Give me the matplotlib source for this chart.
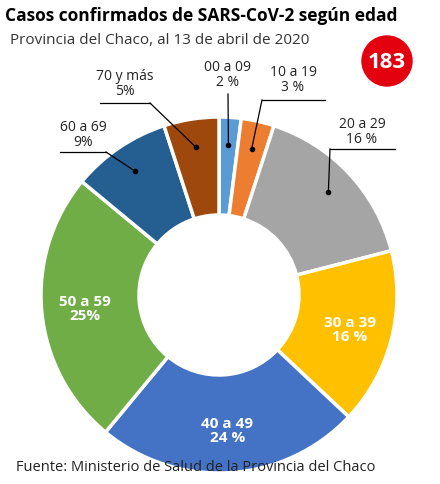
import matplotlib
matplotlib.use("Agg")
import matplotlib.pyplot as plt
import numpy as np

categories = ["00 a 09", "10 a 19", "20 a 29", "30 a 39", "40 a 49", "50 a 59", "60 a 69", "70 y más"]
values = [2, 3, 16, 16, 24, 25, 9, 5]
pct_labels = ["2 %", "3 %", "16 %", "16 %", "24 %", "25%", "9%", "5%"]
colors = ["#5b9bd5", "#ed7d31", "#a5a5a5", "#ffc000", "#4472c4", "#70ad47", "#255e91", "#9e480e"]
total = 183

H = 485
def Y(y):
    return H - y

plt.rcParams['font.family'] = ['Open Sans', 'DejaVu Sans']
fig = plt.figure(figsize=(4.4, 4.85), dpi=100)
ax = fig.add_axes([0, 0, 1, 1])

cx, cy, R = 219, 296, 178
ax.pie(values, colors=colors, startangle=90, counterclock=False, center=(cx, Y(cy)), radius=R,
       wedgeprops=dict(width=R - 80, edgecolor='white', linewidth=2.5), frame=True)
ax.set_xlim(0, 440); ax.set_ylim(0, H); ax.set_aspect('equal'); ax.axis('off')

cum = np.cumsum([0] + values[:-1])
mids = [90 - (c + v / 2) / 100 * 360 for c, v in zip(cum, values)]

def pt(i, r):
    a = np.deg2rad(mids[i])
    return cx + r * np.cos(a), Y(cy) + r * np.sin(a)

for i in [3, 4, 5]:
    x, y = pt(i, 135)
    ax.text(x, y, f"{categories[i]}\n{pct_labels[i]}", color='white', fontsize=11, fontweight='bold',
            ha='center', va='center', linespacing=1.0)

outs = {0: (228, 75, None), 1: (293, 80, (262, 325, 101)), 2: (362, 132, (330, 395, 150)),
        6: (83, 135, (60, 106, 153)), 7: (125, 84, (100, 150, 104))}
for i, (tx, ty, ul) in outs.items():
    ax.text(tx, Y(ty), f"{categories[i]}\n{pct_labels[i]}", fontsize=10, ha='center', va='center',
            linespacing=1.0, color='#222222')
    px, py = pt(i, 150)
    if ul is None:
        ax.plot([tx, px], [Y(ty + 20), py], color='black', lw=0.9)
    else:
        x0, x1, uy = ul
        ax.plot([x0, x1], [Y(uy), Y(uy)], color='black', lw=0.9)
        if i == 1:
            sx = x0
        elif i == 2:
            sx = x0
        elif i == 6:
            sx = x1
        else:
            sx = x1
        ax.plot([sx, px], [Y(uy), py], color='black', lw=0.9)
    ax.plot(px, py, 'o', color='black', ms=3)

ax.text(5, Y(16), "Casos confirmados de SARS-CoV-2 según edad", fontsize=12.5, fontweight='bold',
        ha='left', va='center', color='black')
ax.text(10, Y(40), "Provincia del Chaco, al 13 de abril de 2020", fontsize=11, ha='left', va='center', color='#333333')
ax.add_patch(plt.Circle((387, Y(62)), 25, color='#e3000f'))
ax.text(387, Y(62), str(total), fontsize=16, fontweight='bold', color='white', ha='center', va='center')
ax.text(16, Y(468), "Fuente: Ministerio de Salud de la Provincia del Chaco", fontsize=10.5, ha='left', va='center', color='#222222')

fig.savefig("out.png", dpi=100)
